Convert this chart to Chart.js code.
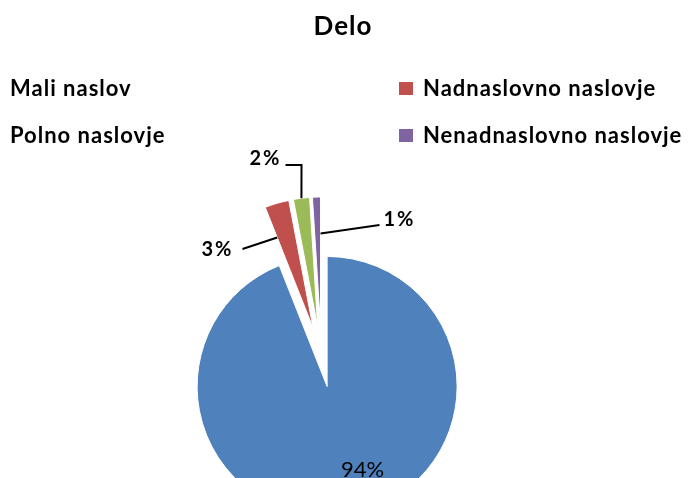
<!DOCTYPE html>
<html>
<head>
<meta charset="utf-8">
<script src="https://cdn.jsdelivr.net/npm/chart.js@4.4.0/dist/chart.umd.min.js"></script>
<style>
  html, body { margin: 0; padding: 0; background: #fff; overflow: hidden; }
  canvas { display: block; }
</style>
</head>
<body>
<canvas id="piechart" width="689" height="478"></canvas>
<script>
// values
const chartTitle = 'Delo';
const categories = ['Mali naslov', 'Nadnaslovno naslovje', 'Polno naslovje', 'Nenadnaslovno naslovje'];
const shares = [94, 3, 2, 1];
const sliceColors = ['#4F81BD', '#C0504D', '#9BBB59', '#8064A2'];

// placement (px), kept apart from the data
const EXPLODE = 30;
const legendSpots = [[10, 89], [423, 89], [10, 136], [423, 136]];
// label centre relative to pie centre, leader starts on a slice edge at t * radius
const labelSpots = [
  { at: [41, 113], bold: false, leader: null },
  { at: [-104, -107], bold: true, leader: { edge: 'start', t: 0.75, pts: [[-79, -108]] } },
  { at: [-56, -198], bold: true, leader: { edge: 'mid', t: 1, pts: [[-20, -192], [-36, -192]] } },
  { at: [78, -137], bold: true, leader: { edge: 'end', t: 0.72, pts: [[58, -132]] } }
];

function sliceAngle(el, edge) {
  if (edge === 'start') return el.startAngle;
  if (edge === 'end') return el.endAngle;
  return (el.startAngle + el.endAngle) / 2;
}

// pull every slice out from the centre, like excel's exploded pie
const explodePlugin = {
  id: 'explode',
  beforeDatasetsDraw(chart) {
    chart.getDatasetMeta(0).data.forEach(el => {
      const mid = sliceAngle(el, 'mid');
      el._home = { x: el.x, y: el.y };
      el.x += Math.cos(mid) * EXPLODE;
      el.y += Math.sin(mid) * EXPLODE;
    });
  },
  afterDatasetsDraw(chart) {
    const ctx = chart.ctx;
    const arcs = chart.getDatasetMeta(0).data;
    const total = shares.reduce((a, b) => a + b, 0);
    ctx.save();
    arcs.forEach((el, i) => {
      const home = el._home;
      const spot = labelSpots[i];
      if (spot.leader) {
        const a = sliceAngle(el, spot.leader.edge);
        const r = el.outerRadius * spot.leader.t;
        ctx.beginPath();
        ctx.moveTo(el.x + Math.cos(a) * r, el.y + Math.sin(a) * r);
        spot.leader.pts.forEach(p => ctx.lineTo(home.x + p[0], home.y + p[1]));
        ctx.strokeStyle = '#000';
        ctx.lineWidth = 2;
        ctx.stroke();
      }
      ctx.fillStyle = '#000';
      ctx.font = (spot.bold ? 'bold 20px' : '22px') + ' Lato';
      ctx.letterSpacing = spot.bold ? '2px' : '0px';
      ctx.textAlign = 'center';
      ctx.textBaseline = 'middle';
      ctx.fillText(Math.round(shares[i] / total * 100) + '%', home.x + spot.at[0], home.y + spot.at[1]);
    });
    ctx.restore();
    arcs.forEach(el => { el.x = el._home.x; el.y = el._home.y; });
  }
};

// title and the two-column legend
const headerPlugin = {
  id: 'header',
  afterDraw(chart) {
    const ctx = chart.ctx;
    ctx.save();
    ctx.fillStyle = '#000';
    ctx.textBaseline = 'middle';
    ctx.font = 'bold 26px Lato';
    ctx.letterSpacing = '1px';
    ctx.textAlign = 'center';
    ctx.fillText(chartTitle, 343, 27);
    ctx.font = 'bold 22px Lato';
    ctx.textAlign = 'left';
    categories.forEach((name, i) => {
      const [x, y] = legendSpots[i];
      ctx.fillStyle = sliceColors[i];
      ctx.fillRect(x - 24, y - 7, 14, 13);
      ctx.fillStyle = '#000';
      ctx.fillText(name, x, y);
    });
    ctx.restore();
  }
};

new Chart(document.getElementById('piechart'), {
  type: 'pie',
  data: {
    labels: categories,
    datasets: [{
      data: shares,
      backgroundColor: sliceColors,
      borderColor: '#fff',
      borderWidth: 1,
      radius: 130
    }]
  },
  options: {
    responsive: false,
    animation: false,
    layout: { padding: { top: 236, left: 0, right: 46, bottom: 0 } },
    plugins: {
      legend: { display: false },
      title: { display: false },
      tooltip: { enabled: false }
    }
  },
  plugins: [explodePlugin, headerPlugin]
});
</script>
</body>
</html>
